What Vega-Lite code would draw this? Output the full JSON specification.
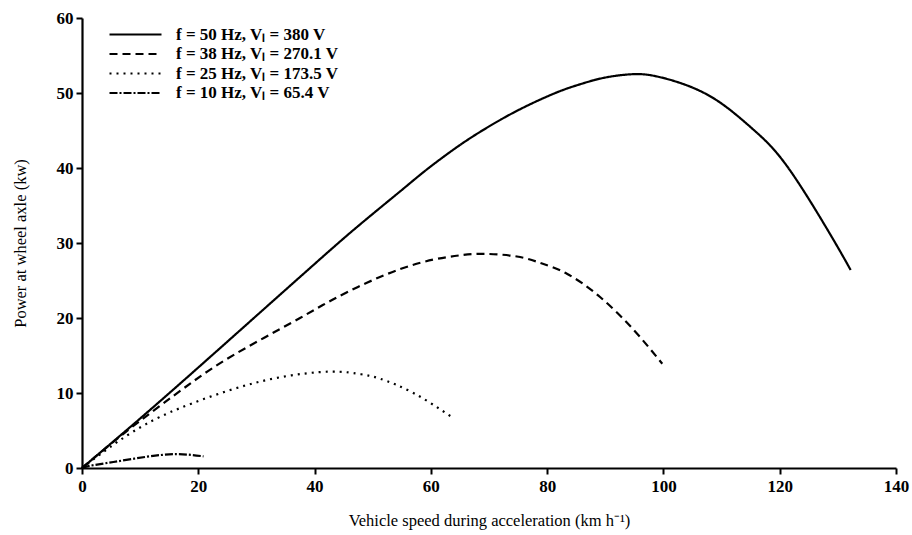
{
  "$schema": "https://vega.github.io/schema/vega-lite/v6.json",
  "autosize": "none",
  "width": 814,
  "height": 450,
  "padding": {"left": 82, "top": 18, "right": 16, "bottom": 67},
  "background": "white",
  "config": {
    "view": {"stroke": null},
    "font": "Liberation Serif",
    "axis": {
      "domainColor": "black", "domainWidth": 2.2,
      "tickColor": "black", "tickWidth": 2, "tickSize": 6,
      "labelColor": "black", "labelFont": "Liberation Serif", "labelFontWeight": "bold", "labelFontSize": 17,
      "labelFlush": false,
      "titleColor": "black", "titleFont": "Liberation Serif", "titleFontWeight": "normal", "titleFontSize": 16.5,
      "grid": false
    }
  },
  "data": {
    "values": [
      {"series": "f = 50 Hz, Vₗ = 380 V", "speed": 0, "power": 0},
      {"series": "f = 50 Hz, Vₗ = 380 V", "speed": 10, "power": 6.6},
      {"series": "f = 50 Hz, Vₗ = 380 V", "speed": 20, "power": 13.4},
      {"series": "f = 50 Hz, Vₗ = 380 V", "speed": 30, "power": 20.3},
      {"series": "f = 50 Hz, Vₗ = 380 V", "speed": 40, "power": 27.2},
      {"series": "f = 50 Hz, Vₗ = 380 V", "speed": 47.4, "power": 32.2},
      {"series": "f = 50 Hz, Vₗ = 380 V", "speed": 54.9, "power": 37.0},
      {"series": "f = 50 Hz, Vₗ = 380 V", "speed": 59.3, "power": 39.8},
      {"series": "f = 50 Hz, Vₗ = 380 V", "speed": 64.7, "power": 42.9},
      {"series": "f = 50 Hz, Vₗ = 380 V", "speed": 69.6, "power": 45.35},
      {"series": "f = 50 Hz, Vₗ = 380 V", "speed": 75, "power": 47.7},
      {"series": "f = 50 Hz, Vₗ = 380 V", "speed": 81.1, "power": 49.9},
      {"series": "f = 50 Hz, Vₗ = 380 V", "speed": 85, "power": 51.0},
      {"series": "f = 50 Hz, Vₗ = 380 V", "speed": 88, "power": 51.7},
      {"series": "f = 50 Hz, Vₗ = 380 V", "speed": 91, "power": 52.2},
      {"series": "f = 50 Hz, Vₗ = 380 V", "speed": 94.5, "power": 52.5},
      {"series": "f = 50 Hz, Vₗ = 380 V", "speed": 98.3, "power": 52.3},
      {"series": "f = 50 Hz, Vₗ = 380 V", "speed": 104.1, "power": 51.0},
      {"series": "f = 50 Hz, Vₗ = 380 V", "speed": 109.8, "power": 48.7},
      {"series": "f = 50 Hz, Vₗ = 380 V", "speed": 115.5, "power": 45.1},
      {"series": "f = 50 Hz, Vₗ = 380 V", "speed": 121.3, "power": 40.2},
      {"series": "f = 50 Hz, Vₗ = 380 V", "speed": 128.5, "power": 31.4},
      {"series": "f = 50 Hz, Vₗ = 380 V", "speed": 132.2, "power": 26.4},

      {"series": "f = 38 Hz, Vₗ = 270.1 V", "speed": 0, "power": 0},
      {"series": "f = 38 Hz, Vₗ = 270.1 V", "speed": 8, "power": 5.1},
      {"series": "f = 38 Hz, Vₗ = 270.1 V", "speed": 15.7, "power": 9.6},
      {"series": "f = 38 Hz, Vₗ = 270.1 V", "speed": 22.6, "power": 13.4},
      {"series": "f = 38 Hz, Vₗ = 270.1 V", "speed": 30, "power": 16.8},
      {"series": "f = 38 Hz, Vₗ = 270.1 V", "speed": 37.5, "power": 20.0},
      {"series": "f = 38 Hz, Vₗ = 270.1 V", "speed": 43, "power": 22.4},
      {"series": "f = 38 Hz, Vₗ = 270.1 V", "speed": 49, "power": 24.7},
      {"series": "f = 38 Hz, Vₗ = 270.1 V", "speed": 55, "power": 26.6},
      {"series": "f = 38 Hz, Vₗ = 270.1 V", "speed": 60.5, "power": 27.8},
      {"series": "f = 38 Hz, Vₗ = 270.1 V", "speed": 65, "power": 28.35},
      {"series": "f = 38 Hz, Vₗ = 270.1 V", "speed": 69.1, "power": 28.55},
      {"series": "f = 38 Hz, Vₗ = 270.1 V", "speed": 74.8, "power": 28.2},
      {"series": "f = 38 Hz, Vₗ = 270.1 V", "speed": 79, "power": 27.3},
      {"series": "f = 38 Hz, Vₗ = 270.1 V", "speed": 83.4, "power": 25.9},
      {"series": "f = 38 Hz, Vₗ = 270.1 V", "speed": 89.1, "power": 22.8},
      {"series": "f = 38 Hz, Vₗ = 270.1 V", "speed": 94.9, "power": 18.4},
      {"series": "f = 38 Hz, Vₗ = 270.1 V", "speed": 99.8, "power": 13.9},

      {"series": "f = 25 Hz, Vₗ = 173.5 V", "speed": 0, "power": 0},
      {"series": "f = 25 Hz, Vₗ = 173.5 V", "speed": 3, "power": 1.75},
      {"series": "f = 25 Hz, Vₗ = 173.5 V", "speed": 6.5, "power": 3.7},
      {"series": "f = 25 Hz, Vₗ = 173.5 V", "speed": 11, "power": 5.85},
      {"series": "f = 25 Hz, Vₗ = 173.5 V", "speed": 16.9, "power": 8.0},
      {"series": "f = 25 Hz, Vₗ = 173.5 V", "speed": 25.5, "power": 10.4},
      {"series": "f = 25 Hz, Vₗ = 173.5 V", "speed": 34.1, "power": 12.1},
      {"series": "f = 25 Hz, Vₗ = 173.5 V", "speed": 42.7, "power": 12.85},
      {"series": "f = 25 Hz, Vₗ = 173.5 V", "speed": 48, "power": 12.5},
      {"series": "f = 25 Hz, Vₗ = 173.5 V", "speed": 51.3, "power": 11.9},
      {"series": "f = 25 Hz, Vₗ = 173.5 V", "speed": 57, "power": 10.0},
      {"series": "f = 25 Hz, Vₗ = 173.5 V", "speed": 63.6, "power": 6.8},

      {"series": "f = 10 Hz, Vₗ = 65.4 V", "speed": 0, "power": 0},
      {"series": "f = 10 Hz, Vₗ = 65.4 V", "speed": 1.4, "power": 0.3},
      {"series": "f = 10 Hz, Vₗ = 65.4 V", "speed": 5.4, "power": 0.8},
      {"series": "f = 10 Hz, Vₗ = 65.4 V", "speed": 11.1, "power": 1.5},
      {"series": "f = 10 Hz, Vₗ = 65.4 V", "speed": 16.3, "power": 1.85},
      {"series": "f = 10 Hz, Vₗ = 65.4 V", "speed": 20.9, "power": 1.55}
    ]
  },
  "mark": {"type": "line", "color": "black", "strokeWidth": 2.2, "interpolate": "natural"},
  "encoding": {
    "x": {
      "field": "speed", "type": "quantitative",
      "scale": {"domain": [0, 140], "nice": false},
      "axis": {"values": [0, 20, 40, 60, 80, 100, 120, 140], "title": "Vehicle speed during acceleration (km h⁻¹)", "titlePadding": 18, "labelPadding": 4}
    },
    "y": {
      "field": "power", "type": "quantitative",
      "scale": {"domain": [0, 60], "nice": false},
      "axis": {"values": [0, 10, 20, 30, 40, 50, 60], "title": "Power at wheel axle (kw)", "titlePadding": 28, "labelPadding": 3}
    },
    "strokeDash": {
      "field": "series", "type": "nominal",
      "scale": {
        "domain": ["f = 50 Hz, Vₗ = 380 V", "f = 38 Hz, Vₗ = 270.1 V", "f = 25 Hz, Vₗ = 173.5 V", "f = 10 Hz, Vₗ = 65.4 V"],
        "range": [[1, 0], [8, 5], [2, 5], [8, 2, 2, 2]]
      },
      "legend": {
        "title": null, "orient": "none", "legendX": 45, "legendY": 8,
        "symbolType": "M-5.2,0H5.2", "symbolSize": 100, "symbolStrokeWidth": 2.2, "symbolStrokeColor": "black",
        "labelFont": "Liberation Serif", "labelFontWeight": "bold", "labelFontSize": 17, "labelColor": "black",
        "labelOffset": 32, "rowPadding": 1.5, "labelLimit": 400
      }
    }
  }
}
